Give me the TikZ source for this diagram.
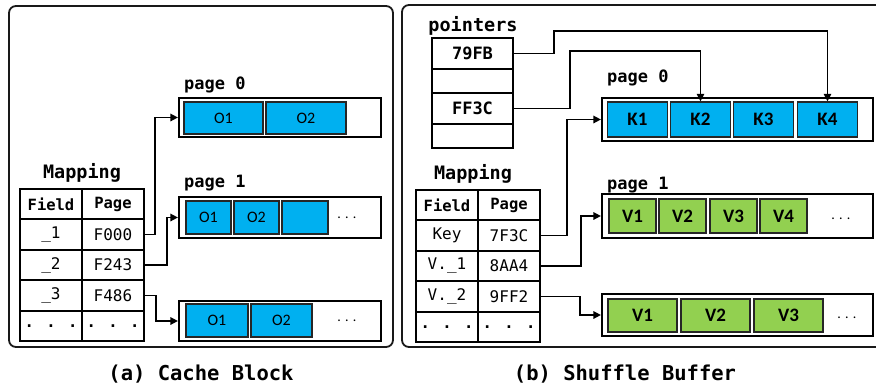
\documentclass[tikz,border=0pt]{standalone}
\usepackage{fontspec}
\setmainfont{Carlito}
\newfontfamily\mono{DejaVu Sans Mono}
\usetikzlibrary{arrows.meta}
\definecolor{cblue}{HTML}{00B0F0}
\definecolor{cgreen}{HTML}{92D050}
\tikzset{
  panel/.style={draw=black!90, line width=1.8pt, rounded corners=7pt},
  pagebox/.style={draw=black, line width=2.2pt, fill=white, inner sep=0pt},
  bcell/.style={draw=black!85, line width=1.4pt, fill=cblue, inner sep=0pt, font=\fontsize{16}{16}\selectfont},
  kcell/.style={bcell, font=\bfseries\fontsize{19}{19}\selectfont},
  gcell/.style={kcell, fill=cgreen},
  tcell/.style={draw=black, line width=1.9pt, minimum width=62pt, minimum height=30.4pt, inner sep=0pt, font=\mono\fontsize{16}{16}\selectfont},
  thead/.style={tcell, font=\mono\bfseries\fontsize{15.5}{15.5}\selectfont},
  pcell/.style={draw=black, line width=1.9pt, minimum width=81pt, inner sep=0pt, font=\mono\bfseries\fontsize{17}{17}\selectfont},
  lbl/.style={font=\mono\bfseries\fontsize{17}{17}\selectfont, inner sep=0pt},
  biglbl/.style={font=\mono\bfseries\fontsize{18.5}{18.5}\selectfont, inner sep=0pt},
  captxt/.style={font=\mono\bfseries\fontsize{20.5}{20.5}\selectfont, inner sep=0pt},
  dots/.style={font=\fontsize{14}{14}\selectfont, inner sep=0pt},
  arr/.style={draw=black, line width=1.5pt, -{Triangle[length=7.5pt,width=7.5pt]}},
}
\begin{document}
\begin{tikzpicture}[x=1pt,y=-1pt]
\useasboundingbox (0,0) rectangle (876,386);
% panels
\draw[panel] (9,6) rectangle (393,347);
\draw[panel] (402,5) rectangle (890,347);

% ---------- (a) Cache Block ----------
\node[lbl, anchor=base west] (la0) at (184,89) {page 0};
\node[pagebox, minimum width=202pt, minimum height=39pt] (pa0) at (280,117.5) {};
\node[bcell, minimum width=79pt, minimum height=32pt] (a01) at (223.5,118) {O1};
\node[bcell, minimum width=80pt, minimum height=32pt] (a02) at (306,118) {O2};

\node[lbl, anchor=base west] (la1) at (184,187) {page 1};
\node[pagebox, minimum width=202pt, minimum height=41pt] (pa1) at (280,217.5) {};
\node[bcell, minimum width=45pt, minimum height=33pt] (a11) at (208.5,217.5) {O1};
\node[bcell, minimum width=45pt, minimum height=33pt] (a12) at (256.5,217.5) {O2};
\node[bcell, minimum width=46pt, minimum height=33pt] (a13) at (305,217.5) {};
\node[dots] (ad1) at (347,218) {. . .};

\node[pagebox, minimum width=202pt, minimum height=40pt] (pa2) at (280,321) {};
\node[bcell, minimum width=62pt, minimum height=33pt] (a21) at (217,320.5) {O1};
\node[bcell, minimum width=61pt, minimum height=33pt] (a22) at (281.5,320.5) {O2};
\node[dots] (ad2) at (347,321) {. . .};

\node[biglbl, anchor=base] (lam) at (82,178) {Mapping};
\node[thead] (ah1) at (51,204.2) {Field};
\node[thead] (ah2) at (113,204.2) {Page};
\node[tcell] (ar1f) at (51,234.6) {\_1};
\node[tcell] (ar1p) at (113,234.6) {F000};
\node[tcell] (ar2f) at (51,265) {\_2};
\node[tcell] (ar2p) at (113,265) {F243};
\node[tcell] (ar3f) at (51,295.4) {\_3};
\node[tcell] (ar3p) at (113,295.4) {F486};
\node[thead] (ar4f) at (51,325.8) {. . .};
\node[thead] (ar4p) at (113,325.8) {. . .};

\draw[arr] (ar1p.east) -- ++(10,0) |- (pa0.west);
\draw[arr] (ar2p.east) -- ++(22,0) |- (pa1.west);
\draw[arr] (ar3p.east) -- ++(11,0) |- (pa2.west);

\node[captxt, anchor=base] (capa) at (201,380) {(a) Cache Block};

% ---------- (b) Shuffle Buffer ----------
\node[biglbl, anchor=base] (lptr) at (473,31) {pointers};
\node[pcell, minimum height=31pt] (ptr1) at (472.5,53.5) {79FB};
\node[pcell, minimum height=24pt] (ptr2) at (472.5,81) {};
\node[pcell, minimum height=31pt] (ptr3) at (472.5,108.5) {FF3C};
\node[pcell, minimum height=24pt] (ptr4) at (472.5,136) {};

\node[lbl, anchor=base west] (lb0) at (607,82) {page 0};
\node[pagebox, minimum width=271pt, minimum height=43pt] (pb0) at (737.5,119.5) {};
\node[kcell, minimum width=60pt, minimum height=35pt] (k1) at (637.5,119.5) {K1};
\node[kcell, minimum width=60pt, minimum height=35pt] (k2) at (700.5,119.5) {K2};
\node[kcell, minimum width=60pt, minimum height=35pt] (k3) at (763.5,119.5) {K3};
\node[kcell, minimum width=60pt, minimum height=35pt] (k4) at (827.5,119.5) {K4};

\node[lbl, anchor=base west] (lb1) at (607,189) {page 1};
\node[pagebox, minimum width=271pt, minimum height=44pt] (pb1) at (737.5,216) {};
\node[gcell, minimum width=47pt, minimum height=34pt] (v11) at (632.5,216) {V1};
\node[gcell, minimum width=47pt, minimum height=34pt] (v12) at (682.5,216) {V2};
\node[gcell, minimum width=47pt, minimum height=34pt] (v13) at (733.5,216) {V3};
\node[gcell, minimum width=47pt, minimum height=34pt] (v14) at (783.5,216) {V4};
\node[dots] (bd1) at (841,219) {. . .};

\node[pagebox, minimum width=271pt, minimum height=42pt] (pb2) at (737.5,315) {};
\node[gcell, minimum width=69pt, minimum height=33pt] (v21) at (642.5,315.5) {V1};
\node[gcell, minimum width=69pt, minimum height=33pt] (v22) at (715.5,315.5) {V2};
\node[gcell, minimum width=69pt, minimum height=33pt] (v23) at (788.5,315.5) {V3};
\node[dots] (bd2) at (847,318) {. . .};

\node[biglbl, anchor=base] (lbm) at (473,179) {Mapping};
\node[thead] (bh1) at (447,205.2) {Field};
\node[thead] (bh2) at (509,205.2) {Page};
\node[tcell] (br1f) at (447,235.6) {Key};
\node[tcell] (br1p) at (509,235.6) {7F3C};
\node[tcell] (br2f) at (447,266) {V.\_1};
\node[tcell] (br2p) at (509,266) {8AA4};
\node[tcell] (br3f) at (447,296.4) {V.\_2};
\node[tcell] (br3p) at (509,296.4) {9FF2};
\node[thead] (br4f) at (447,326.8) {. . .};
\node[thead] (br4p) at (509,326.8) {. . .};

\coordinate (top1) at (0,31);
\coordinate (top2) at (0,51);
\draw[arr] (ptr1.east) -- ++(40,0) |- (k4.north |- top1) -- (k4.north);
\draw[arr] (ptr3.east) -- ++(56,0) |- (k2.north |- top2) -- (k2.north);
\draw[arr] (br1p.east) -- ++(26,0) |- (pb0.west);
\draw[arr] (br2p.east) -- ++(40,0) |- (pb1.west);
\draw[arr] (br3p.east) -- ++(39,0) |- (pb2.west);

\node[captxt, anchor=base] (capb) at (625,380) {(b) Shuffle Buffer};
\end{tikzpicture}
\end{document}
